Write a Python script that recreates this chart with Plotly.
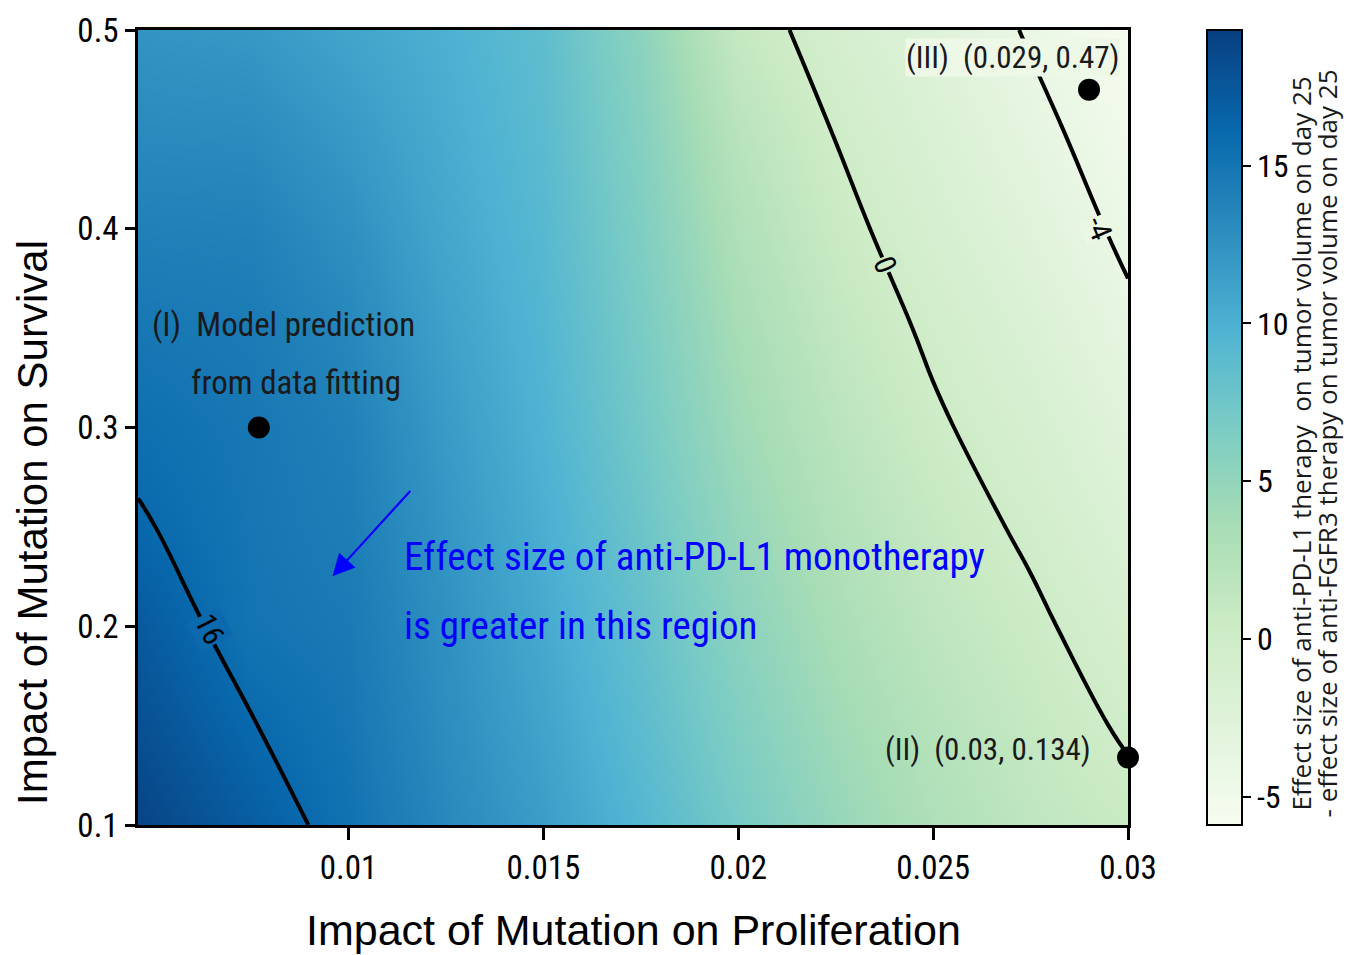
import plotly.graph_objects as go

# Grid of mutation impacts
prolif = [0.0046, 0.0075, 0.01, 0.0125, 0.015, 0.0175, 0.02, 0.0225, 0.025, 0.0275, 0.03]
surv = [0.1, 0.15, 0.2, 0.25, 0.3, 0.35, 0.4, 0.45, 0.5]

# Effect-size difference (anti-PD-L1 minus anti-FGFR3), one row per survival value
effect_diff = [
    [19.0, 17.0, 15.3, 13.3, 11.6, 9.4, 7.0, 4.8, 3.0, 1.6, 0.6],
    [18.1, 16.1, 14.9, 12.9, 11.1, 8.8, 6.3, 4.1, 2.4, 1.0, -0.25],
    [17.3, 15.1, 14.6, 12.6, 10.6, 8.3, 5.6, 3.4, 1.7, 0.4, -1.1],
    [16.2, 14.9, 14.3, 12.2, 10.2, 7.7, 4.9, 2.7, 1.0, -0.35, -2.0],
    [15.5, 14.8, 14.0, 11.8, 9.8, 7.2, 4.2, 2.0, 0.3, -1.1, -2.8],
    [14.8, 14.5, 13.4, 11.3, 9.5, 6.8, 3.6, 1.3, -0.35, -1.9, -3.6],
    [14.0, 13.9, 12.7, 10.8, 9.2, 6.4, 2.9, 0.6, -1.1, -2.7, -4.4],
    [13.1, 13.0, 11.9, 10.4, 8.9, 6.0, 2.1, -0.1, -1.8, -3.45, -5.1],
    [12.3, 12.0, 11.0, 10.0, 8.6, 5.5, 1.0, -0.9, -2.5, -4.2, -5.8],
]

# Contour levels and where their labels sit on the lines
contour_levels = [16, 0, -4]
label_x = [0.00645, 0.02377, 0.02925]
label_y = [0.1985, 0.382, 0.4005]
label_angle = [63, 67, 67]

# Highlighted parameter sets
pts_x = [0.0077, 0.03, 0.029]
pts_y = [0.30, 0.134, 0.47]

x_ticks = [0.01, 0.015, 0.02, 0.025, 0.03]
x_tick_text = ["0.01", "0.015", "0.02", "0.025", "0.03"]
y_ticks = [0.1, 0.2, 0.3, 0.4, 0.5]
y_tick_text = ["0.1", "0.2", "0.3", "0.4", "0.5"]
cbar_ticks = [-5, 0, 5, 10, 15]
cbar_tick_text = ["-5", "0", "5", "10", "15"]

ZMIN, ZMAX = -5.9, 19.3
GNBU = [
    [0.0, (247, 252, 240)], [0.125, (224, 243, 219)], [0.25, (204, 235, 197)],
    [0.375, (168, 221, 181)], [0.5, (123, 204, 196)], [0.625, (78, 179, 211)],
    [0.75, (43, 140, 190)], [0.875, (8, 104, 172)], [1.0, (8, 64, 129)],
]
GNBU_SCALE = [[t, "rgb(%d,%d,%d)" % c] for t, c in GNBU]


def scale_color(v):
    t = min(max((v - ZMIN) / (ZMAX - ZMIN), 0.0), 1.0)
    for (t0, c0), (t1, c1) in zip(GNBU[:-1], GNBU[1:]):
        if t0 <= t <= t1:
            f = (t - t0) / (t1 - t0)
            return "rgb(%d,%d,%d)" % tuple(round(a + (b - a) * f) for a, b in zip(c0, c1))
    return "rgb(%d,%d,%d)" % GNBU[-1][1]


NARROW = "Liberation Sans Narrow, Arial Narrow, Roboto Condensed, sans-serif"
SANS = "Liberation Sans, Arial, sans-serif"
HUMANIST = "Open Sans, sans-serif"

fig = go.Figure()

fig.add_trace(go.Heatmap(
    x=prolif, y=surv, z=effect_diff,
    colorscale=GNBU_SCALE, zmin=ZMIN, zmax=ZMAX, zsmooth="best",
    hoverinfo="skip",
    colorbar=dict(
        x=1.0798, xanchor="left", y=0.5, yanchor="middle",
        len=1, lenmode="fraction", thickness=35,
        xpad=0, ypad=0,
        outlinewidth=2, outlinecolor="black",
        ticks="outside", ticklen=8, tickwidth=2, tickcolor="black",
        tickvals=cbar_ticks, ticktext=cbar_tick_text,
        tickfont=dict(family=NARROW, size=32, color="black"),
    ),
))

for lvl in contour_levels:
    fig.add_trace(go.Contour(
        x=prolif, y=surv, z=effect_diff,
        autocontour=False,
        contours=dict(start=lvl, end=lvl, size=1, coloring="none", showlabels=False),
        line=dict(color="black", width=4, smoothing=1.3),
        showscale=False, hoverinfo="skip",
    ))

fig.add_trace(go.Scatter(
    x=pts_x, y=pts_y, mode="markers",
    marker=dict(color="black", size=22),
    cliponaxis=False, hoverinfo="skip", showlegend=False,
))

ann_font = dict(family=NARROW, size=33, color="#1a1a1a")
blue_font = dict(family=NARROW, size=39, color="#0000ff")
pt_font = dict(family=NARROW, size=31, color="#1a1a1a")

annotations = []

# contour level labels, drawn over the line with the level's own colour behind them
for lvl, lx, ly, ang in zip(contour_levels, label_x, label_y, label_angle):
    annotations.append(dict(
        x=lx, y=ly, text=str(lvl), textangle=ang, showarrow=False,
        xanchor="center", yanchor="middle",
        bgcolor=scale_color(lvl), borderpad=0,
        font=dict(family=NARROW, size=30, color="black"),
    ))

annotations += [
    dict(x=0.0049, y=0.352, text="(I)  Model prediction", xanchor="left", yanchor="middle",
         showarrow=False, font=ann_font),
    dict(x=0.00592, y=0.3226, text="from data fitting", xanchor="left", yanchor="middle",
         showarrow=False, font=ann_font),
    dict(x=0.01138, y=0.2347, text="Effect size of anti-PD-L1 monotherapy",
         xanchor="left", yanchor="middle", showarrow=False, font=blue_font),
    dict(x=0.01138, y=0.200, text="is greater in this region",
         xanchor="left", yanchor="middle", showarrow=False, font=blue_font),
    dict(x=0.00959, y=0.2251, ax=0.01162, ay=0.2688, axref="x", ayref="y",
         xref="x", yref="y", text="", showarrow=True, arrowhead=2, arrowsize=2,
         arrowwidth=2.2, arrowcolor="#0000ff"),
    dict(x=0.0298, y=0.4864, text="(III)  (0.029, 0.47)", xanchor="right", yanchor="middle",
         showarrow=False, font=pt_font, bgcolor=scale_color(-4.6), borderpad=0),
    dict(x=0.0291, y=0.1382, text="(II)  (0.03, 0.134)", xanchor="right", yanchor="middle",
         showarrow=False, font=pt_font),
    # axis titles
    dict(xref="paper", yref="paper", x=0.5, y=-0.1325, text="Impact of Mutation on Proliferation",
         xanchor="center", yanchor="middle", showarrow=False,
         font=dict(family=SANS, size=43, color="black")),
    dict(xref="paper", yref="paper", x=-0.106, y=0.38, text="Impact of Mutation on Survival",
         xanchor="center", yanchor="middle", textangle=-90, showarrow=False,
         font=dict(family=SANS, size=42, color="black")),
    # colorbar title, one line each
    dict(xref="paper", yref="paper", x=(1301 - 138) / 990, y=0.48,
         text="Effect size of anti-PD-L1 therapy  on tumor volume on day 25",
         xanchor="center", yanchor="middle", textangle=-90, showarrow=False,
         font=dict(family=HUMANIST, size=26, color="#1a1a1a")),
    dict(xref="paper", yref="paper", x=(1327 - 138) / 990, y=0.48,
         text="- effect size of anti-FGFR3 therapy on tumor volume on day 25",
         xanchor="center", yanchor="middle", textangle=-90, showarrow=False,
         font=dict(family=HUMANIST, size=26, color="#1a1a1a")),
]

fig.update_layout(
    width=1346, height=955,
    margin=dict(l=138, r=218, t=30, b=130),
    paper_bgcolor="white", plot_bgcolor="white",
    showlegend=False,
    annotations=annotations,
    xaxis=dict(
        range=[0.0046, 0.03], tickvals=x_ticks, ticktext=x_tick_text,
        ticks="outside", ticklen=12, tickwidth=2.5, tickcolor="black",
        showline=True, linewidth=2.5, linecolor="black", mirror=True,
        showgrid=False, zeroline=False,
        tickfont=dict(family=NARROW, size=33, color="black"),
    ),
    yaxis=dict(
        range=[0.1, 0.5], tickvals=y_ticks, ticktext=y_tick_text,
        ticks="outside", ticklen=10, tickwidth=2.5, tickcolor="black",
        showline=True, linewidth=2.5, linecolor="black", mirror=True,
        showgrid=False, zeroline=False,
        tickfont=dict(family=NARROW, size=33, color="black"),
    ),
)

fig.write_html("out.html")
